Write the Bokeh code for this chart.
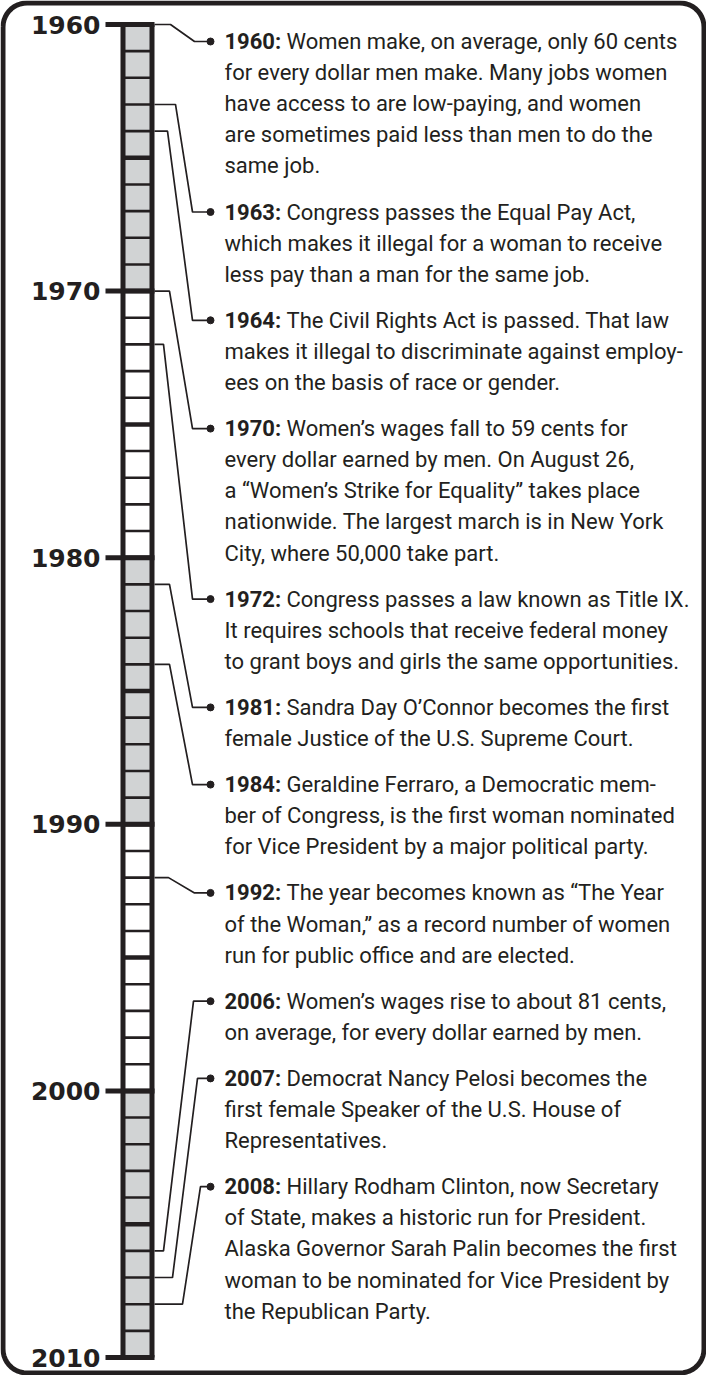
from bokeh.plotting import figure
from bokeh.models import Range1d
from bokeh.core.properties import value
from bokeh.embed import file_html
from bokeh.resources import INLINE
import numpy as np

# ---------------- data ----------------
decades = [1960, 1970, 1980, 1990, 2000, 2010]
decade_labels = ["1960", "1970", "1980", "1990", "2000", "2010"]

event_years = [1960, 1963, 1964, 1970, 1972, 1981, 1984, 1992, 2006, 2007, 2008]
event_labels = ["1960:", "1963:", "1964:", "1970:", "1972:", "1981:", "1984:",
                "1992:", "2006:", "2007:", "2008:"]
event_lines = [
    ["Women make, on average, only 60 cents",
     "for every dollar men make. Many jobs women",
     "have access to are low-paying, and women",
     "are sometimes paid less than men to do the",
     "same job."],
    ["Congress passes the Equal Pay Act,",
     "which makes it illegal for a woman to receive",
     "less pay than a man for the same job."],
    ["The Civil Rights Act is passed. That law",
     "makes it illegal to discriminate against employ-",
     "ees on the basis of race or gender."],
    ["Women\u2019s wages fall to 59 cents for",
     "every dollar earned by men. On August 26,",
     "a \u201cWomen\u2019s Strike for Equality\u201d takes place",
     "nationwide. The largest march is in New York",
     "City, where 50,000 take part."],
    ["Congress passes a law known as Title IX.",
     "It requires schools that receive federal money",
     "to grant boys and girls the same opportunities."],
    ["Sandra Day O\u2019Connor becomes the first",
     "female Justice of the U.S. Supreme Court."],
    ["Geraldine Ferraro, a Democratic mem-",
     "ber of Congress, is the first woman nominated",
     "for Vice President by a major political party."],
    ["The year becomes known as \u201cThe Year",
     "of the Woman,\u201d as a record number of women",
     "run for public office and are elected."],
    ["Women\u2019s wages rise to about 81 cents,",
     "on average, for every dollar earned by men."],
    ["Democrat Nancy Pelosi becomes the",
     "first female Speaker of the U.S. House of",
     "Representatives."],
    ["Hillary Rodham Clinton, now Secretary",
     "of State, makes a historic run for President.",
     "Alaska Governor Sarah Palin becomes the first",
     "woman to be nominated for Vice President by",
     "the Republican Party."],
]

# ---------------- layout (pixels) ----------------
W, H = 706, 1375
TOP_PY = 32.0          # page y of 1960
BOT_PY = 1365.0        # page y of 2010
PX = (BOT_PY - TOP_PY) / (decades[-1] - decades[0])

def yr(py):
    return decades[0] + (np.asarray(py, dtype=float) - TOP_PY) / PX

elbow_x = [178, 183, 175, 177, 171, 177, 177, 176, 171, 180, 190]
diag_x = [202, 200, 200, 200, 200, 200, 200, 202, 201, 205, 208]
DOT_X = 218
TEXT_X = 232
BODY_X = 294
LINE_H = 31.1
GAP = 15
FIRST_PY = 49

INK = "#231f20"
GRAY = "#d1d3d4"

p = figure(width=W, height=H, output_backend="svg", toolbar_location=None,
           title=None,
           x_range=Range1d(8, 8 + W), y_range=Range1d(float(yr(8 + H)), float(yr(8))),
           min_border=0, outline_line_color=None, background_fill_color="white",
           border_fill_color="white")
p.axis.visible = False
p.grid.visible = False

# rounded frame
x0f, x1f, y0f, y1f, r = 10.5, 711.5, 10.5, 1380.5, 24
def arc(cx, cy, a0, a1):
    t = np.linspace(a0, a1, 12)
    return cx + r * np.cos(t), cy + r * np.sin(t)
xs, ys = [], []
for (cx, cy, a0, a1) in [(x0f + r, y0f + r, np.pi, 1.5 * np.pi),
                         (x1f - r, y0f + r, 1.5 * np.pi, 2 * np.pi),
                         (x1f - r, y1f - r, 0, 0.5 * np.pi),
                         (x0f + r, y1f - r, 0.5 * np.pi, np.pi)]:
    ax, ay = arc(cx, cy, a0, a1)
    xs.extend(ax); ys.extend(ay)
xs.append(xs[0]); ys.append(ys[0])
p.line(xs, yr(ys), line_color=INK, line_width=5, line_join="round")

# bar fills
fills = [GRAY if i % 2 == 0 else "white" for i in range(len(decades) - 1)]
p.quad(left=132, right=158, top=decades[:-1], bottom=decades[1:],
       fill_color=fills, line_color=None)

# year lines
all_years = np.arange(decades[0] + 1, decades[-1])
widths = [4.5 if y % 5 == 0 else 2.6 for y in all_years]
p.segment(x0=131, x1=159, y0=all_years, y1=all_years, line_color=INK, line_width=widths)

# bar borders
p.segment(x0=[130.5, 159.5], x1=[130.5, 159.5], y0=[decades[0]] * 2, y1=[decades[-1]] * 2,
          line_color=INK, line_width=5)
# decade ticks
p.segment(x0=113, x1=162, y0=decades, y1=decades, line_color=INK, line_width=5)

# decade labels
p.text(x=108, y=decades,
       text=decade_labels, text_align="right", text_baseline="middle",
       text_font=value("DejaVu Sans"), text_font_style="bold", text_font_size="25px",
       text_color=INK)

# events
label_py = []
cur = FIRST_PY
for lines in event_lines:
    label_py.append(cur)
    cur += len(lines) * LINE_H + GAP
label_py = np.array(label_py)

cx, cy = [], []
for i, y in enumerate(event_years):
    cx.append([162, elbow_x[i], diag_x[i], DOT_X])
    cy.append([y, y, float(yr(label_py[i])), float(yr(label_py[i]))])
p.multi_line(cx, cy, line_color=INK, line_width=1.7)
p.scatter(x=[DOT_X] * len(event_years), y=yr(label_py), size=7, color=INK)

p.text(x=TEXT_X, y=yr(label_py), text=event_labels, text_font=value("Roboto"),
       text_font_style="bold", text_font_size="22px", text_color=INK,
       text_baseline="middle")

tx, ty, tt = [], [], []
for i, lines in enumerate(event_lines):
    for j, line in enumerate(lines):
        tx.append(BODY_X if j == 0 else TEXT_X)
        ty.append(float(yr(label_py[i] + j * LINE_H)))
        tt.append(line)
p.text(x=tx, y=ty, text=tt, text_font=value("Roboto"), text_font_size="22px",
       text_color=INK, text_baseline="middle")

open("out.html", "w").write(file_html(p, INLINE))
